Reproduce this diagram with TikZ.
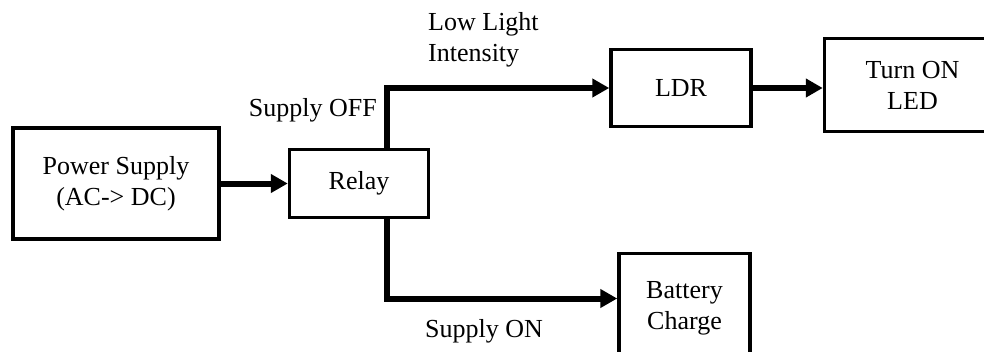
\documentclass[tikz,border=0pt]{standalone}
\usepackage{fontspec}
\setmainfont{Liberation Serif}
\usetikzlibrary{arrows.meta, positioning}

\begin{document}
\begin{tikzpicture}[x=1pt, y=-1pt, node distance=67pt,
  every node/.style={text=black, font=\fontsize{26}{31}\selectfont},
  arr/.style={-{Triangle[length=17pt, width=18pt]}, line width=6pt, draw=black},
  block/.style={draw, line width=3.5pt, inner sep=0pt, align=center},
  lbl/.style={align=left, inner sep=0pt}]

  \clip (0,0) rectangle (984,351);

  %% ==============================================================
  %% SUPPLY SIDE
  %% ==============================================================

  \node[block, minimum width=206pt, minimum height=111pt] at (116,183.5)
      (psu) {Power Supply\\(AC-> DC)};

  \node[block, minimum width=139pt, minimum height=68pt, right=67pt of psu]
      (relay) {Relay};

  \draw[arr] (psu.east) -- (relay.west);

  %% ==============================================================
  %% UPPER BRANCH: LDR -> LED
  %% ==============================================================

  \node[block, minimum width=140pt, minimum height=77pt,
        right=179pt of relay, yshift=95.5pt]
      (ldr) {LDR};

  \node[block, minimum width=176pt, minimum height=93pt,
        right=70pt of ldr, yshift=3pt]
      (led) {Turn ON\\LED};

  \draw[arr] ([xshift=27.5pt]relay.north) |- (ldr.west);
  \draw[arr] (ldr.east) -- (ldr.east -| led.west);

  \node[lbl, anchor=base east] at (377,116) (offlbl) {Supply OFF};
  \node[lbl, anchor=north west] at (428,12) (intlbl) {Low Light\\Intensity};

  %% ==============================================================
  %% LOWER BRANCH: BATTERY
  %% ==============================================================

  \node[block, minimum width=131pt, minimum height=110pt,
        right=187pt of relay, yshift=-125pt]
      (bat) {Battery\\Charge};

  \draw[arr] ([xshift=27.5pt]relay.south) |- ([yshift=10pt]bat.west);

  \node[lbl, anchor=base west] at (425,337) (onlbl) {Supply ON};

\end{tikzpicture}
\end{document}
